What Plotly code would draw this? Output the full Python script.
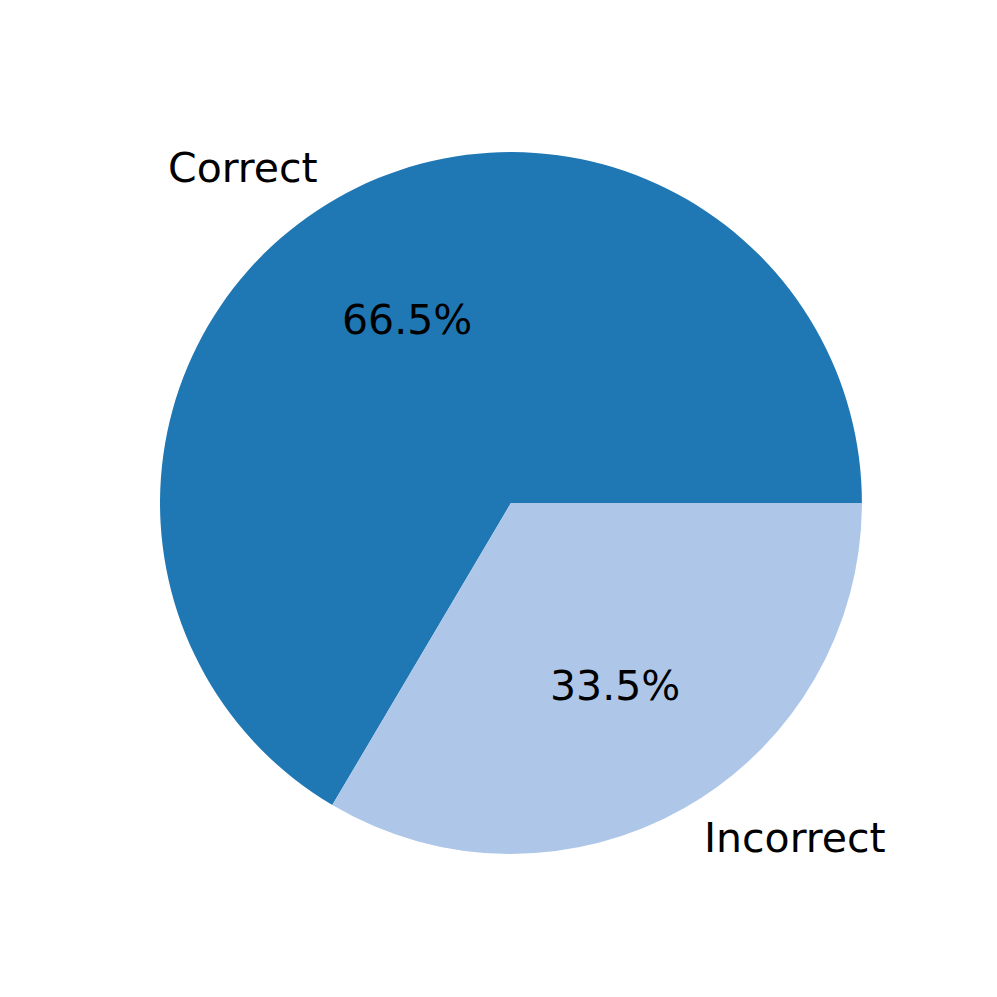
import math
import plotly.graph_objects as go

# data
labels = ["Correct", "Incorrect"]
values = [66.5, 33.5]
colors = ["#1f77b4", "#aec7e8"]

# pie geometry in paper units (square figure)
cx, cy, r = 0.5125, 0.4955, 0.352
font = dict(family="DejaVu Sans", size=41, color="black")

total = sum(values)

fig = go.Figure(
    go.Pie(
        labels=labels,
        values=values,
        marker=dict(colors=colors, line=dict(width=0)),
        sort=False,
        direction="counterclockwise",
        # first wedge runs counterclockwise from 3 o'clock, like matplotlib
        rotation=90 - 360 * values[0] / total,
        textinfo="none",
        hoverinfo="label+percent",
        domain=dict(x=[cx - r, cx + r], y=[cy - r, cy + r]),
        showlegend=False,
    )
)

# matplotlib-style labels (radius 1.1) and percentages (radius 0.6)
start = 0.0
annotations = []
for lab, v in zip(labels, values):
    mid = math.radians(360 * (start + v / 2) / total)
    start += v
    ca, sa = math.cos(mid), math.sin(mid)
    annotations.append(dict(
        x=cx + 1.1 * r * ca, y=cy + 1.1 * r * sa, text=lab,
        xanchor="left" if ca > 0 else "right", yanchor="middle",
    ))
    annotations.append(dict(
        x=cx + 0.6 * r * ca, y=cy + 0.6 * r * sa, text=f"{100 * v / total:.1f}%",
        xanchor="center", yanchor="middle",
    ))
for a in annotations:
    a.update(xref="paper", yref="paper", showarrow=False, font=font)

fig.update_layout(
    width=997,
    height=997,
    margin=dict(l=0, r=0, t=0, b=0),
    paper_bgcolor="white",
    plot_bgcolor="white",
    annotations=annotations,
)

fig.write_html(
    "out.html",
    config={"displayModeBar": False},
    post_script="document.body.style.margin='0';",
)
